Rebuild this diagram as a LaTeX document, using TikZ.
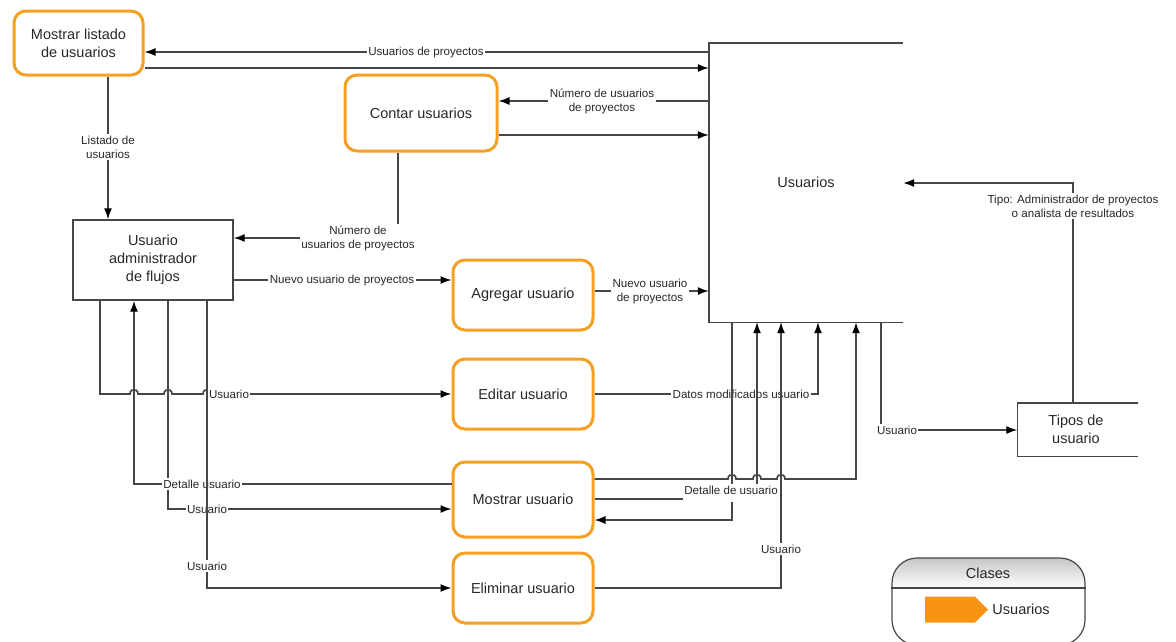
\documentclass[tikz,border=0pt]{standalone}
\usepackage{fontspec}
\setmainfont{Liberation Sans}
\usetikzlibrary{arrows.meta,shapes.symbols}
\usepackage{xcolor}

\definecolor{procorange}{RGB}{246,160,35}
\definecolor{legorange}{RGB}{247,148,20}
\definecolor{linegray}{RGB}{70,70,70}
\definecolor{textgray}{RGB}{40,40,40}
\newcommand{\boxfont}{\fontsize{14.5}{18}\selectfont}
\newcommand{\lblfont}{\fontsize{11.6}{14}\selectfont}
% line hop over a crossing connector (8pt wide)
\newcommand{\hop}{-- ++(0.5,-2.4) -- ++(1.2,-1.3) -- ++(2.3,-0.3) -- ++(2.3,0.3) -- ++(1.2,1.3) -- ++(0.5,2.4)}

\begin{document}
\begin{tikzpicture}[
  x=1pt, y=-1pt,
  % Process boxes (orange, rounded)
  proc/.style={draw=procorange, line width=3pt, rounded corners=12pt, fill=white, align=center, font=\boxfont, text=textgray, minimum width=140pt, minimum height=70pt},
  % External entity
  entity/.style={draw=linegray, line width=1.4pt, fill=white, align=center, font=\boxfont, text=textgray},
  % Data stores (open on one side, outline drawn by hand)
  store/.style={align=center, font=\boxfont, text=textgray},
  % Flow labels
  lbl/.style={fill=white, inner sep=1.5pt, align=center, font=\lblfont, text=textgray},
  flow/.style={draw=linegray, line width=1.4pt, -{Latex[length=11pt,width=8pt,color=black]}},
  % flows with hops need a bit more weight to look the same
  hopflow/.style={flow, line width=1.7pt},
  plain/.style={draw=linegray, line width=1.4pt}
]
\useasboundingbox (0,0) rectangle (1176,641);

% Processes and entities
\node[proc, minimum width=129pt, minimum height=64pt] (ml) at (78.5,43) {Mostrar listado\\de usuarios};
\node[proc, minimum width=152pt, minimum height=76pt] (cu) at (421,113) {Contar usuarios};
\node[entity, minimum width=160pt, minimum height=80pt] (ua) at (153,260) {Usuario\\administrador\\de flujos};
\node[proc] (ag) at (523,295) {Agregar usuario};
\node[proc] (ed) at (523,394) {Editar usuario};
\node[proc, minimum height=75pt] (mu) at (523,499.5) {Mostrar usuario};
\node[proc] (el) at (523,588) {Eliminar usuario};

% Data stores
\node[store, minimum width=194pt, minimum height=279pt] (us) at (806,182.5) {Usuarios};
\draw[plain] (us.north east) -- (us.north west) -- (us.south west) -- (us.south east);
\node[store, minimum width=117pt, minimum height=53pt] (tu) at (1076,429.5) {Tipos de\\usuario};
\draw[plain] ([xshift=3pt]tu.north east) -- (tu.north west) -- (tu.south west) -- ([xshift=3pt]tu.south east);

% Flows
\draw[flow] (us.west |- 0,52) -- (ml.east |- 0,52);
\draw[flow] (ml.east |- 0,68) -- (us.west |- 0,68);
\draw[flow] (ml.south -| 108,0) -- (ua.north -| 108,0);
\draw[flow] (us.west |- 0,101) -- (cu.east |- 0,101);
\draw[flow] (cu.east |- 0,135) -- (us.west |- 0,135);
\draw[flow] (cu.south -| 398,0) |- (ua.east |- 0,238);
\draw[flow] (ua.east |- 0,280) -- (ag.west |- 0,280);
\draw[flow] (ag.east |- 0,291) -- (us.west |- 0,291);
\draw[hopflow] (ua.south -| 100,0) -- (100,394) -- (130,394) \hop -- (164,394) \hop
  -- (203,394) \hop -- (ed.west);
\draw[flow] (mu.west |- 0,484) -| (ua.south -| 134,0);
\draw[flow] (ua.south -| 168,0) |- (mu.west |- 0,509);
\draw[flow] (ed.east) -| (us.south -| 818,0);
\draw[hopflow] (mu.east |- 0,479) -- (728,479) \hop -- (753,479) \hop
  -- (777,479) \hop -| (us.south -| 856,0);
\draw[flow] (us.south -| 881,0) |- (tu.west |- 0,430);
\draw[flow] (tu.north -| 1073,0) |- (us.east |- 0,183);

% Labels
\node[lbl] (l1) at (426,52) {Usuarios de proyectos};
\node[lbl] (l2) at (108,147) {Listado de\\usuarios};
\node[lbl] (l3) at (602,101) {Número de usuarios\\de proyectos};
\node[lbl] (l4) at (358,238) {Número de\\usuarios de proyectos};
\node[lbl] (l5) at (342,280) {Nuevo usuario de proyectos};
\node[lbl] (l6) at (650,291) {Nuevo usuario\\de proyectos};
\node[lbl] (l7) at (229,394) {Usuario};
\node[lbl] (l8) at (741,394) {Datos modificados usuario};
\node[lbl] (l9) at (202,484) {Detalle usuario};
\node[lbl] (l10) at (207,509) {Usuario};
\node[lbl] (l14) at (897,430) {Usuario};
\node[lbl] (l15) at (1073,206) {Tipo: Administrador de proyectos\\o analista de resultados};

% Flows that run over some labels
\draw[flow] (ua.south -| 207,0) |- (el.west);
\node[lbl] (l11) at (207,566) {Usuario};
\draw[flow] (us.south -| 732,0) |- (mu.east |- 0,520);
\draw[flow] (mu.east |- 0,499) -| (us.south -| 757,0);
\node[lbl, anchor=north, text depth=6pt] (l12) at (731,484) {Detalle de usuario};
\draw[flow] (el.east) -| (us.south -| 781,0);
\node[lbl] (l13) at (781,549) {Usuario};

% Legend
\begin{scope}
  \clip[rounded corners=25pt] (892,558) rectangle (1085,645);
  \shade[top color=gray!45, bottom color=white] (892,558) rectangle (1085,588);
\end{scope}
\node[draw=linegray, line width=1.2pt, rounded corners=25pt, minimum width=193pt, minimum height=87pt] (leg) at (988.5,601.5) {};
\draw[plain] (leg.west |- 0,588) -- (leg.east |- 0,588);
\node[font=\boxfont, text=textgray] (legt) at (988,573) {Clases};
\node[signal, signal to=east, fill=legorange, minimum width=63pt, minimum height=26pt, inner sep=0pt] (legs) at (950,609.5) {};
\node[font=\boxfont, text=textgray, anchor=west, inner sep=2pt] (legu) at ([xshift=2pt]legs.east) {Usuarios};

\end{tikzpicture}
\end{document}
